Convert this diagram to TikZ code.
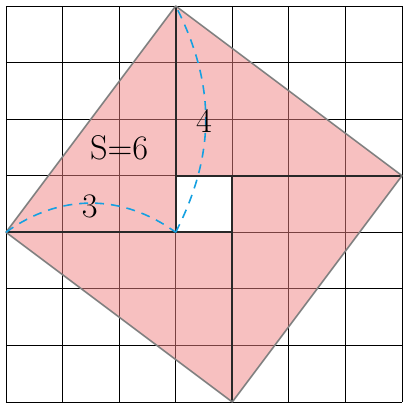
\documentclass[tikz,border=0pt]{standalone}
\begin{document}
\begin{tikzpicture}[x=1cm,y=1cm,
  gridline/.style={black, line width=0.4pt},
  sqfill/.style={fill={rgb,255:red,240;green,130;blue,130}, fill opacity=0.5},
  sqedge/.style={draw={rgb,255:red,128;green,128;blue,128}, line width=0.8pt, line join=round},
  legline/.style={draw={rgb,255:red,40;green,40;blue,40}, line width=0.9pt},
  arcline/.style={draw={rgb,255:red,20;green,160;blue,225}, line width=0.8pt, dash pattern=on 4.5pt off 3.5pt},
  lbl/.style={font=\LARGE, inner sep=0pt}]
\useasboundingbox (-0.106,-0.106) rectangle (7.106,7.106);
\draw[gridline] (0,0) grid (7,7);
\coordinate (L) at (0,3);
\coordinate (T) at (3,7);
\coordinate (R) at (7,4);
\coordinate (B) at (4,0);
\coordinate (A) at (3,3);
\coordinate (C) at (3,4);
\coordinate (D) at (4,4);
\coordinate (E) at (4,3);
\fill[sqfill] (L) -- (T) -- (R) -- (B) -- cycle;
\fill[white] (A) rectangle (D);
\draw[legline] (T) -- (A);
\draw[legline] (C) -- (R);
\draw[legline] (D) -- (B);
\draw[legline] (L) -- (E);
\draw[legline] (A) rectangle (D);
\draw[sqedge] (L) -- (T) -- (R) -- (B) -- cycle;
\draw[arcline] (L) to[bend left=36] (A);
\draw[arcline] (A) to[bend right=27] (T);
\node[lbl] (s) at (2,4.5) {S=6};
\node[lbl] (three) at (1.48,3.45) {3};
\node[lbl] (four) at (3.5,4.97) {4};
\end{tikzpicture}
\end{document}
